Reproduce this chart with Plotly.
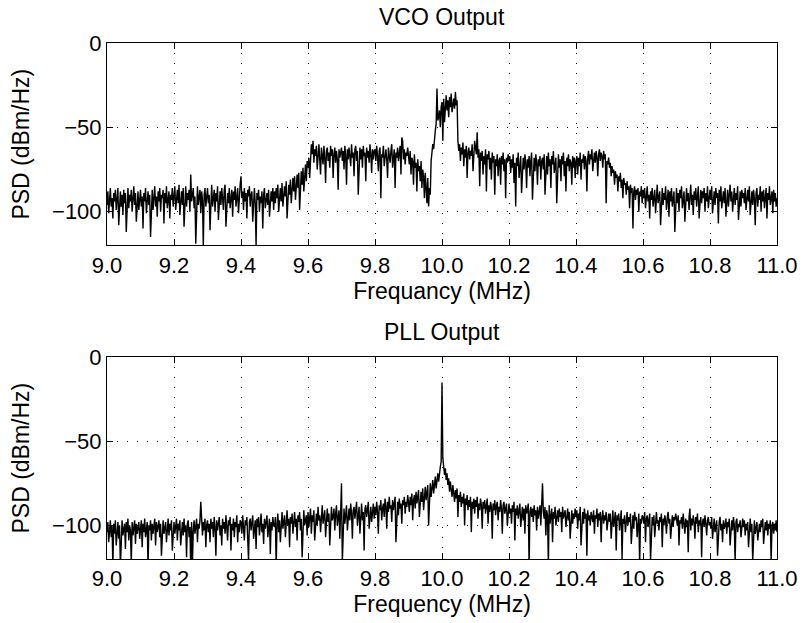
import plotly.graph_objects as go

# ---------------- data ----------------
# Each row covers 0.1 MHz, sampled every 0.0025 MHz, starting at row_start
row_start = [9.0, 9.1, 9.2, 9.3, 9.4, 9.5, 9.6, 9.7, 9.8, 9.9,
             10.0, 10.1, 10.2, 10.3, 10.4, 10.5, 10.6, 10.7, 10.8, 10.9]
bin_step = 0.0025

vco_rows = [
    [-96,-88,-101,-90,-86,-97,-92,-104,-89,-94,-87,-99,-91,-86,-108,-93,-88,-97,-90,-102,-87,-95,-89,-112,-92,-86,-98,-90,-94,-87,-100,-91,-85,-96,-89,-106,-92,-88,-99,-90],
    [-87,-97,-91,-110,-89,-94,-86,-101,-92,-88,-96,-90,-115,-93,-87,-99,-89,-85,-97,-91,-103,-88,-94,-86,-100,-90,-92,-87,-107,-89,-95,-85,-98,-91,-88,-104,-90,-93,-86,-97],
    [-89,-85,-99,-92,-87,-95,-84,-102,-90,-88,-96,-86,-109,-91,-85,-97,-89,-93,-87,-100,-78,-94,-88,-86,-98,-91,-119,-89,-85,-96,-90,-87,-101,-88,-93,-120,-90,-86,-97,-89],
    [-86,-95,-90,-111,-88,-84,-97,-91,-87,-100,-89,-94,-85,-105,-90,-88,-96,-86,-92,-99,-87,-84,-109,-91,-89,-95,-86,-98,-90,-87,-103,-88,-93,-85,-97,-89,-86,-101,-90,-84],
    [-79,-92,-88,-99,-86,-94,-89,-104,-87,-91,-85,-97,-90,-88,-106,-92,-86,-95,-120,-89,-93,-87,-100,-91,-95,-88,-110,-90,-86,-98,-92,-89,-96,-87,-103,-91,-88,-94,-86,-99],
    [-88,-95,-86,-92,-84,-100,-89,-86,-94,-83,-97,-88,-85,-91,-82,-104,-87,-84,-90,-81,-95,-85,-80,-88,-79,-93,-83,-78,-86,-77,-99,-81,-76,-84,-74,-88,-79,-72,-82,-70],
    [-74,-68,-80,-70,-60,-66,-58,-71,-63,-67,-61,-75,-64,-60,-69,-78,-62,-66,-72,-61,-68,-83,-64,-62,-70,-65,-74,-61,-67,-63,-80,-66,-62,-71,-64,-69,-87,-63,-68,-65],
    [-62,-70,-64,-75,-61,-67,-84,-63,-69,-62,-66,-73,-60,-68,-65,-79,-63,-61,-70,-64,-90,-66,-62,-69,-63,-74,-61,-67,-65,-82,-62,-68,-64,-71,-60,-66,-77,-63,-69,-64],
    [-63,-70,-61,-67,-76,-64,-62,-92,-66,-68,-61,-73,-65,-63,-69,-80,-62,-66,-71,-64,-60,-74,-67,-63,-86,-65,-68,-62,-70,-64,-61,-78,-56,-58,-69,-63,-72,-65,-67,-62],
    [-66,-72,-64,-78,-68,-70,-84,-66,-74,-71,-88,-69,-76,-73,-82,-70,-86,-75,-79,-92,-77,-84,-95,-80,-97,-86,-90,-70,-66,-60,-63,-55,-52,-48,-27,-46,-44,-40,-50,-38],
    [-35,-58,-33,-47,-36,-31,-40,-34,-44,-32,-38,-30,-41,-35,-33,-39,-29,-37,-34,-58,-64,-60,-70,-62,-66,-59,-73,-63,-68,-61,-80,-65,-62,-69,-64,-67,-60,-76,-63,-58],
    [-62,-66,-53,-68,-63,-85,-65,-70,-64,-78,-67,-72,-63,-88,-66,-69,-64,-75,-68,-81,-65,-71,-67,-90,-69,-73,-66,-79,-70,-68,-84,-67,-72,-65,-76,-69,-92,-68,-71,-66],
    [-70,-67,-77,-69,-74,-66,-83,-71,-97,-68,-73,-65,-80,-70,-67,-89,-72,-68,-75,-66,-71,-86,-69,-74,-67,-79,-70,-65,-93,-72,-68,-76,-66,-71,-84,-69,-73,-67,-81,-70],
    [-68,-75,-66,-90,-71,-67,-78,-65,-73,-69,-86,-67,-72,-64,-77,-70,-68,-95,-71,-66,-74,-69,-82,-67,-72,-65,-79,-70,-88,-68,-73,-66,-76,-69,-71,-84,-67,-74,-68,-80],
    [-70,-67,-78,-68,-73,-65,-81,-69,-71,-66,-75,-67,-70,-88,-68,-64,-72,-66,-69,-63,-76,-67,-65,-71,-64,-68,-79,-66,-63,-70,-65,-67,-74,-64,-69,-66,-95,-70,-72,-68],
    [-74,-71,-79,-73,-77,-75,-84,-76,-80,-78,-88,-79,-82,-77,-86,-81,-92,-80,-84,-83,-90,-82,-87,-85,-98,-84,-89,-86,-110,-88,-85,-93,-87,-90,-86,-100,-88,-91,-85,-95],
    [-87,-92,-86,-98,-89,-85,-94,-90,-104,-88,-93,-86,-97,-91,-87,-101,-89,-84,-95,-90,-88,-108,-92,-86,-96,-89,-93,-85,-99,-91,-87,-103,-88,-94,-86,-97,-90,-88,-112,-91],
    [-86,-95,-89,-100,-87,-92,-85,-98,-90,-88,-106,-91,-86,-94,-89,-99,-87,-84,-96,-90,-102,-88,-93,-86,-97,-89,-85,-104,-91,-87,-95,-88,-92,-86,-100,-89,-94,-85,-98,-90],
    [-87,-93,-85,-101,-90,-88,-96,-86,-92,-89,-107,-87,-94,-85,-98,-91,-88,-95,-86,-103,-90,-87,-97,-89,-84,-94,-88,-100,-91,-86,-96,-89,-93,-85,-105,-90,-88,-97,-87,-92],
    [-89,-95,-86,-99,-91,-87,-94,-85,-102,-90,-88,-96,-87,-92,-108,-89,-86,-97,-90,-93,-85,-100,-88,-94,-87,-98,-91,-86,-104,-89,-93,-85,-96,-90,-88,-101,-87,-94,-89,-97,-92],
]

pll_rows = [
    [-104,-98,-110,-101,-97,-107,-100,-124,-99,-105,-97,-112,-102,-98,-108,-100,-125,-103,-97,-106,-101,-99,-114,-98,-104,-96,-109,-100,-103,-123,-98,-106,-101,-97,-111,-99,-105,-102,-98,-108],
    [-100,-97,-113,-99,-104,-96,-107,-101,-98,-125,-100,-103,-97,-109,-99,-105,-101,-96,-112,-98,-104,-100,-97,-107,-99,-118,-102,-97,-105,-100,-98,-110,-101,-96,-106,-99,-103,-97,-115,-100],
    [-98,-105,-100,-96,-109,-99,-103,-97,-112,-101,-98,-106,-96,-104,-100,-119,-99,-97,-107,-101,-126,-98,-124,-103,-97,-105,-100,-96,-110,-99,-102,-97,-86,-100,-106,-98,-103,-96,-113,-100],
    [-97,-104,-99,-110,-96,-102,-98,-107,-95,-101,-118,-97,-103,-99,-95,-106,-100,-112,-96,-102,-98,-105,-94,-101,-109,-97,-100,-95,-115,-99,-103,-96,-107,-98,-101,-94,-110,-99,-104,-97],
    [-98,-105,-94,-101,-109,-97,-100,-95,-104,-121,-98,-96,-103,-99,-94,-108,-100,-97,-114,-96,-101,-95,-106,-98,-93,-104,-99,-111,-96,-102,-97,-94,-107,-100,-96,-117,-98,-103,-95,-100],
    [-101,-95,-125,-99,-93,-104,-97,-110,-96,-92,-102,-98,-94,-107,-97,-91,-100,-96,-113,-95,-99,-93,-105,-97,-92,-101,-96,-109,-94,-98,-92,-103,-96,-119,-95,-91,-100,-97,-94,-106],
    [-92,-101,-96,-90,-105,-94,-98,-91,-109,-95,-93,-100,-89,-97,-94,-104,-92,-88,-99,-95,-91,-107,-94,-90,-98,-93,-112,-92,-89,-97,-95,-90,-103,-93,-88,-100,-94,-91,-108,-92],
    [-75,-122,-95,-90,-99,-92,-88,-103,-94,-90,-97,-87,-93,-108,-91,-89,-96,-92,-86,-100,-93,-89,-105,-91,-87,-97,-92,-115,-90,-88,-95,-91,-86,-102,-93,-89,-98,-90,-87,-96],
    [-89,-94,-86,-92,-105,-88,-91,-85,-97,-90,-87,-95,-84,-89,-102,-86,-92,-83,-90,-88,-98,-85,-91,-87,-83,-110,-89,-86,-94,-84,-90,-87,-99,-85,-88,-83,-93,-86,-89,-82],
    [-86,-92,-83,-88,-81,-97,-85,-82,-90,-80,-87,-84,-79,-95,-83,-80,-86,-78,-91,-82,-77,-85,-80,-76,-100,-79,-75,-83,-77,-73,-81,-75,-71,-78,-72,-69,-74,-68,-65,-62],
    [-15,-60,-64,-70,-66,-73,-69,-76,-72,-80,-74,-78,-83,-76,-81,-86,-79,-84,-78,-95,-82,-86,-80,-89,-83,-87,-81,-100,-84,-88,-82,-91,-85,-89,-83,-104,-86,-90,-84,-93],
    [-85,-89,-83,-96,-87,-91,-84,-88,-102,-86,-90,-85,-93,-87,-84,-99,-88,-92,-86,-89,-108,-87,-91,-85,-94,-88,-86,-97,-89,-92,-85,-90,-105,-88,-86,-93,-89,-87,-100,-90],
    [-87,-93,-90,-99,-88,-92,-86,-109,-90,-94,-88,-96,-91,-87,-101,-92,-89,-97,-90,-105,-88,-93,-91,-87,-125,-92,-89,-95,-90,-98,-88,-94,-91,-103,-89,-96,-92,-88,-100,-91],
    [-75,-92,-96,-89,-106,-91,-94,-124,-88,-99,-93,-90,-110,-92,-96,-89,-100,-94,-91,-98,-90,-95,-92,-104,-89,-96,-93,-91,-101,-94,-90,-97,-92,-108,-95,-91,-99,-93,-96,-90],
    [-95,-91,-102,-93,-97,-89,-112,-94,-92,-99,-90,-96,-93,-118,-91,-97,-94,-100,-92,-95,-98,-91,-105,-94,-96,-90,-101,-93,-97,-92,-110,-95,-91,-99,-94,-97,-92,-103,-96,-93],
    [-98,-93,-108,-95,-91,-101,-96,-92,-115,-94,-97,-93,-103,-95,-91,-120,-96,-99,-94,-104,-97,-92,-100,-95,-98,-93,-111,-96,-94,-102,-92,-97,-95,-107,-98,-93,-124,-96,-99,-94],
    [-95,-99,-92,-110,-96,-94,-101,-97,-93,-121,-98,-95,-100,-94,-107,-96,-92,-99,-97,-103,-95,-98,-93,-113,-96,-100,-94,-97,-105,-95,-92,-99,-96,-108,-98,-94,-101,-95,-97,-93],
    [-96,-100,-94,-112,-97,-99,-95,-102,-93,-98,-105,-96,-101,-97,-116,-95,-90,-103,-96,-100,-94,-98,-108,-95,-99,-93,-104,-97,-100,-95,-119,-98,-96,-101,-94,-99,-106,-97,-95,-100],
    [-98,-102,-95,-108,-99,-96,-104,-100,-97,-118,-101,-98,-95,-103,-99,-110,-97,-102,-100,-96,-105,-98,-101,-96,-112,-99,-97,-103,-95,-100,-122,-98,-96,-104,-99,-101,-97,-107,-100,-96],
    [-101,-97,-106,-99,-103,-98,-113,-100,-96,-104,-99,-121,-101,-97,-105,-100,-98,-109,-102,-99,-104,-97,-101,-96,-111,-100,-98,-103,-97,-106,-99,-102,-97,-122,-100,-98,-105,-99,-103,-97,-104],
]

x_tick_vals = [9.0, 9.2, 9.4, 9.6, 9.8, 10.0, 10.2, 10.4, 10.6, 10.8, 11.0]
x_tick_text = ["9.0", "9.2", "9.4", "9.6", "9.8", "10.0", "10.2", "10.4", "10.6", "10.8", "11.0"]
y_tick_vals = [0, -50, -100]
y_tick_text = ["0", "\u221250", "\u2212100"]

titles = ["VCO Output", "PLL Output"]
x_titles = ["Frequancy (MHz)", "Frequency (MHz)"]
y_title = "PSD (dBm/Hz)"


def flatten(rows):
    xs, ys = [], []
    for start, row in zip(row_start, rows):
        for j, v in enumerate(row):
            xs.append(start + bin_step * j)
            ys.append(v)
    return xs, ys


freq_vco, psd_vco = flatten(vco_rows)
freq_pll, psd_pll = flatten(pll_rows)

# ---------------- figure ----------------
FONT = "Liberation Sans, Arial, Helvetica, sans-serif"
FS = 22
FS_T = 23

fig = go.Figure()
fig.add_trace(go.Scatter(x=freq_vco, y=psd_vco, mode="lines",
                         line=dict(color="black", width=1.4), xaxis="x", yaxis="y"))
fig.add_trace(go.Scatter(x=freq_pll, y=psd_pll, mode="lines",
                         line=dict(color="black", width=1.4), xaxis="x2", yaxis="y2"))


def xax(title, anchor):
    return dict(range=[9.0, 11.0], tickvals=x_tick_vals, ticktext=x_tick_text,
                ticks="inside", ticklen=6, tickcolor="black", tickwidth=1,
                showline=True, linecolor="black", linewidth=1, mirror="ticks",
                showgrid=True, gridcolor="black", gridwidth=1, griddash="1px,9px",
                zeroline=False, anchor=anchor, automargin=False,
                tickfont=dict(family=FONT, size=FS, color="black"),
                title=dict(text=title, font=dict(family=FONT, size=FS_T, color="black"), standoff=1))


def yax(anchor, domain):
    return dict(range=[-120, 0], tickvals=y_tick_vals, ticktext=y_tick_text,
                ticks="inside", ticklen=6, tickcolor="black", tickwidth=1,
                showline=True, linecolor="black", linewidth=1, mirror="ticks",
                showgrid=True, gridcolor="black", gridwidth=1, griddash="1px,9px",
                zeroline=False, anchor=anchor, domain=domain, automargin=False,
                tickfont=dict(family=FONT, size=FS, color="black"),
                title=dict(text=y_title, font=dict(family=FONT, size=FS_T, color="black"), standoff=15))


fig.update_layout(
    width=803, height=623,
    margin=dict(l=107, r=26, t=43, b=64),
    paper_bgcolor="white", plot_bgcolor="white",
    showlegend=False,
    xaxis=xax(x_titles[0], "y"),
    yaxis=yax("x", [0.6078, 1.0]),
    xaxis2=xax(x_titles[1], "y2"),
    yaxis2=yax("x2", [0.0, 0.3909]),
    annotations=[
        dict(text=titles[0], x=0.5, y=1.0504, xref="paper", yref="paper",
             xanchor="center", yanchor="middle", showarrow=False,
             font=dict(family=FONT, size=FS_T, color="black")),
        dict(text=titles[1], x=0.5, y=0.4399, xref="paper", yref="paper",
             xanchor="center", yanchor="middle", showarrow=False,
             font=dict(family=FONT, size=FS_T, color="black")),
    ],
)

# remove the page's default body margin so the 803x623 figure fills the window exactly
fig.write_html("out.html",
               config={"displayModeBar": False},
               post_script="document.body.style.margin='0px';document.body.style.overflow='hidden';")
